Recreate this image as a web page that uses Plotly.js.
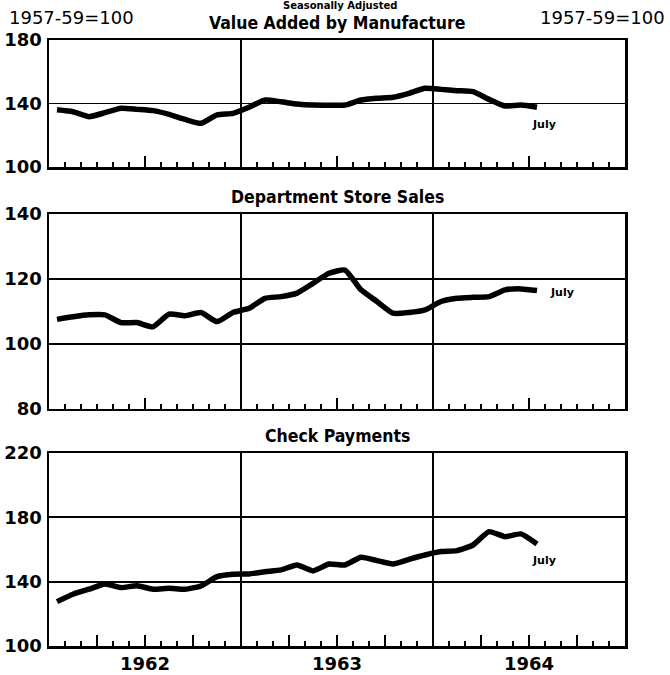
<!DOCTYPE html>
<html>
<head>
<meta charset="utf-8">
<script src="https://cdn.plot.ly/plotly-3.0.1.min.js"></script>
<style>html,body{margin:0;padding:0;background:#fff;}#chart{width:670px;height:675px;}</style>
</head>
<body>
<div id="chart"></div>
<script>
// Months Jan 1962 .. Jul 1964 (index 0 = Jan 1962)
const years = ['1962', '1963', '1964'];
const monthsShown = 36;
const valueAdded = [136, 134.8, 131.7, 134.2, 137, 136.3, 135.5, 133.2, 130, 127.5, 132.8, 133.8,
  137.6, 142.2, 141.1, 139.7, 139, 138.9, 139, 142.2, 143.3, 143.9, 146.4, 149.6,
  148.9, 148.1, 147.5, 142.6, 138.4, 139, 137.6];
const deptStore = [107.5, 108.3, 108.9, 108.9, 106.5, 106.5, 105.2, 109.1, 108.6, 109.6, 106.8, 109.6,
  110.9, 114, 114.5, 115.6, 118.6, 121.7, 122.7, 116.6, 113, 109.4, 109.6, 110.4,
  113, 114, 114.3, 114.5, 116.6, 116.9, 116.4];
const checkPay = [127.6, 132.2, 135.3, 138.6, 136.3, 137.5, 135.3, 135.9, 135.3, 137.3, 143.1, 144.6,
  144.8, 146.2, 147.3, 150.4, 146.7, 151, 150.4, 155.2, 153.1, 151, 153.9, 156.6,
  158.7, 159.3, 162.8, 171.1, 168, 169.7, 163.4];
const panelTitles = ['Value Added by Manufacture', 'Department Store Sales', 'Check Payments'];
const yRanges = [[100, 180], [80, 140], [100, 220]];
const yTicks = [[100, 140, 180], [80, 100, 120, 140], [100, 140, 180, 220]];
const baseLabel = '1957-59=100';
const subTitle = 'Seasonally Adjusted';
const endLabel = 'July';

const series = [valueAdded, deptStore, checkPay];
const W = 670, H = 675;
const xDom = [49 / W, 625 / W];
const yPix = [[40, 167], [214, 408.5], [453, 646]];
const yDoms = yPix.map(p => [1 - p[1] / H, 1 - p[0] / H]);

const titleFont = {family: 'DejaVu Sans Condensed, DejaVu Sans, sans-serif', size: 17.5, color: '#000', weight: 'bold'};
const tickFont = {family: 'DejaVu Sans, sans-serif', size: 18, color: '#000', weight: 'bold'};

const traces = [];
const layout = {
  width: W, height: H,
  margin: {l: 0, r: 0, t: 0, b: 0},
  paper_bgcolor: '#fff', plot_bgcolor: '#fff',
  showlegend: false,
  annotations: [], shapes: []
};

// quarter-boundary major tick positions (excluding year boundaries)
const qTicks = [], qText = [];
for (let m = 0; m <= monthsShown; m += 3) {
  if (m % 12 === 0) continue;
  qTicks.push(m);
  qText.push(m % 12 === 6 ? years[Math.floor(m / 12)] : '');
}

for (let p = 0; p < 3; p++) {
  const n = p + 1;
  const xa = n === 1 ? 'x' : 'x' + n;
  const ya = n === 1 ? 'y' : 'y' + n;
  const data = series[p];
  traces.push({
    x: data.map((v, i) => i + 0.5), y: data,
    xaxis: xa, yaxis: ya, type: 'scatter', mode: 'lines',
    line: {color: '#000', width: 5.5, shape: 'spline', smoothing: 0.5},
    hoverinfo: 'skip'
  });
  layout['xaxis' + (n === 1 ? '' : n)] = {
    domain: xDom, anchor: ya, range: [0, monthsShown],
    showline: true, mirror: true, linecolor: '#000', linewidth: 2.5,
    showgrid: false, zeroline: false,
    tickmode: 'array', tickvals: qTicks, ticktext: qText,
    ticks: 'inside', ticklen: 11, tickwidth: 1.8, tickcolor: '#000',
    showticklabels: p === 2, tickfont: tickFont, ticklabelstandoff: 0,
    minor: {tickmode: 'linear', tick0: 0, dtick: 1, ticks: 'inside', ticklen: 5, tickwidth: 1.8, tickcolor: '#000', showgrid: false}
  };
  const yCommon = {
    range: yRanges[p], tickmode: 'array', tickvals: yTicks[p],
    ticks: '', tickfont: tickFont, zeroline: false, fixedrange: true
  };
  layout['yaxis' + (n === 1 ? '' : n)] = Object.assign({}, yCommon, {
    domain: yDoms[p], anchor: xa,
    showline: true, mirror: true, linecolor: '#000', linewidth: 2.5,
    showgrid: true, gridcolor: '#000', gridwidth: 1.8,
    ticklabelstandoff: 1
  });
  layout['yaxis' + (n + 3)] = Object.assign({}, yCommon, {
    overlaying: ya, side: 'right', anchor: xa,
    showline: false, showgrid: false, ticklabelstandoff: 5
  });
  // year boundary lines
  for (let k = 1; k < years.length; k++) {
    layout.shapes.push({type: 'line', xref: xa, yref: ya + ' domain', x0: k * 12, x1: k * 12, y0: 0, y1: 1,
      line: {color: '#000', width: 2}});
  }
  // panel title
  layout.annotations.push({text: panelTitles[p], xref: xa + ' domain', yref: ya + ' domain', x: 0.5, y: 1,
    yanchor: 'middle', xanchor: 'center', yshift: 17, showarrow: false, font: titleFont});
  // July label
  const last = data.length - 1;
  const jl = [[7, -17, 'center'], [11, -2, 'left'], [7, -16, 'center']][p];
  layout.annotations.push({text: endLabel, xref: xa, yref: ya, x: last + 0.5, y: data[last],
    xshift: jl[0], yshift: jl[1], xanchor: jl[2], yanchor: 'middle', showarrow: false,
    font: {family: 'DejaVu Sans, sans-serif', size: 11, color: '#000', weight: 'bold'}});
}

const baseFont = {family: 'DejaVu Sans, sans-serif', size: 18, color: '#000'};
layout.annotations.push({text: baseLabel, xref: 'paper', yref: 'paper', x: 7 / W, y: 1 - 18 / H,
  xanchor: 'left', yanchor: 'middle', showarrow: false, font: baseFont});
layout.annotations.push({text: baseLabel, xref: 'paper', yref: 'paper', x: 667 / W, y: 1 - 18 / H,
  xanchor: 'right', yanchor: 'middle', showarrow: false, font: baseFont});
layout.annotations.push({text: subTitle, xref: 'paper', yref: 'paper', x: 340 / W, y: 1,
  xanchor: 'center', yanchor: 'top', yshift: 2, showarrow: false,
  font: {family: 'DejaVu Sans, sans-serif', size: 10, color: '#000', weight: 'bold'}});

Plotly.newPlot('chart', traces, layout, {staticPlot: true, displayModeBar: false});
</script>
</body>
</html>
